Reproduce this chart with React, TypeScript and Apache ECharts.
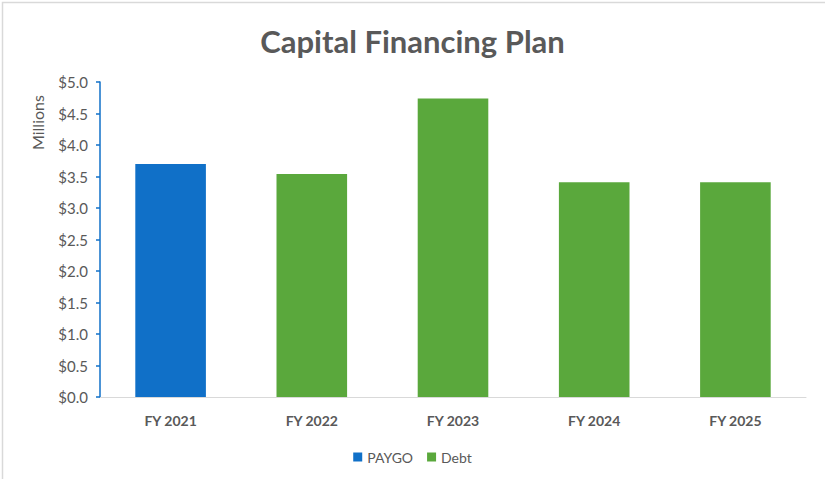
import React, { useEffect, useRef } from "react";
import * as echarts from "echarts";

const categories = ["FY 2021", "FY 2022", "FY 2023", "FY 2024", "FY 2025"];
const paygo: (number | string)[] = [3.7, "-", "-", "-", "-"];
const debt: (number | string)[] = ["-", 3.54, 4.74, 3.41, 3.41];
const yTicks = { min: 0, max: 5, interval: 0.5 };

const FONT = "Lato, 'Open Sans', sans-serif";

export default function App() {
  const ref = useRef<HTMLDivElement>(null);
  useEffect(() => {
    if (!ref.current) return;
    const chart = echarts.init(ref.current, null, { renderer: "svg" });
    chart.setOption({
      animation: false,
      backgroundColor: "#ffffff",
      title: {
        text: "Capital Financing Plan",
        left: "center",
        top: 20,
        textStyle: { fontFamily: FONT, fontSize: 31, fontWeight: "bold", color: "#595959" },
      },
      legend: {
        bottom: 10,
        left: "center",
        itemWidth: 9,
        itemHeight: 9,
        itemGap: 14,
        icon: "rect",
        textStyle: { fontFamily: FONT, fontSize: 14, color: "#595959" },
        data: ["PAYGO", "Debt"],
      },
      grid: { left: 100, right: 19, top: 82, bottom: 82, containLabel: false },
      xAxis: {
        type: "category",
        data: categories,
        axisLine: { lineStyle: { color: "#d9d9d9", width: 1 } },
        axisTick: { show: false },
        axisLabel: { fontFamily: FONT, fontSize: 14, fontWeight: "bold", color: "#595959", margin: 16 },
      },
      yAxis: {
        type: "value",
        min: yTicks.min,
        max: yTicks.max,
        interval: yTicks.interval,
        axisLine: { show: true, lineStyle: { color: "#1070c8", width: 1.5 } },
        axisTick: { show: true, length: 4, lineStyle: { color: "#1070c8", width: 1.5 } },
        splitLine: { show: false },
        axisLabel: {
          fontFamily: FONT,
          fontSize: 15,
          color: "#595959",
          margin: 12,
          formatter: (v: number) => "$" + v.toFixed(1),
        },
      },
      graphic: [
        {
          type: "rect",
          shape: { x: 2.5, y: 2.5, width: 900, height: 600 },
          style: { fill: "none", stroke: "#d9d9d9", lineWidth: 1.5 },
          silent: true,
        },
        {
          type: "text",
          x: 29,
          y: 150,
          rotation: Math.PI / 2,
          style: {
            text: "Millions",
            fontFamily: FONT,
            fontSize: 16,
            fill: "#595959",
          },
        },
      ],
      series: [
        {
          name: "PAYGO",
          type: "bar",
          stack: "total",
          barWidth: "50%",
          itemStyle: { color: "#1070c8" },
          data: paygo,
        },
        {
          name: "Debt",
          type: "bar",
          stack: "total",
          barWidth: "50%",
          itemStyle: { color: "#5aa83c" },
          data: debt,
        },
      ],
    });
    return () => chart.dispose();
  }, []);
  return (
    <div
      ref={ref}
      style={{ position: "fixed", left: 0, top: 0, width: 825, height: 479 }}
    />
  );
}
